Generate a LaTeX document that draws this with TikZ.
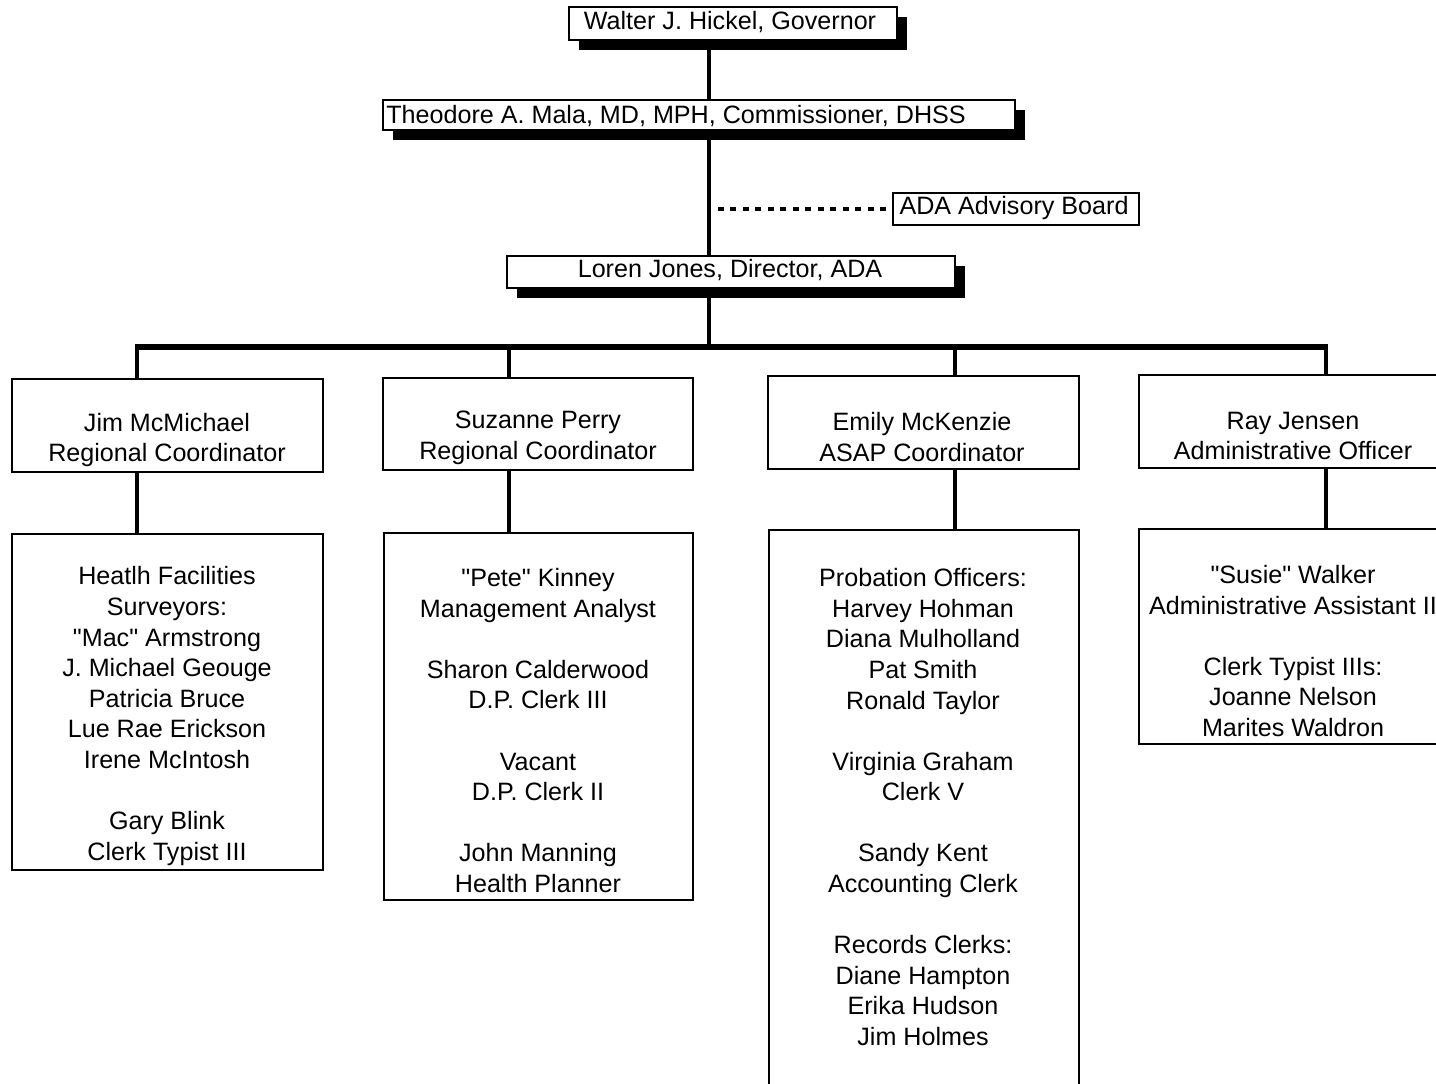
\documentclass[tikz,border=0pt]{standalone}
\usepackage{fontspec}
\setmainfont{Liberation Sans}
\usetikzlibrary{shadows}
\tikzset{
	box/.style={draw,fill=white,line width=1.1pt,inner sep=0pt},
	topbox/.style={box,drop shadow={shadow xshift=0.2cm,shadow yshift=-0.19cm,fill=black,opacity=1}},
	txt/.style={align=center,inner sep=0pt,font=\fontsize{14.3}{17.4}\selectfont},
	trunk/.style={line width=2.4pt},
	bar/.style={line width=3pt},
	link/.style={line width=2pt,dash pattern=on 3.3pt off 3.8pt}
}
\begin{document}
\begin{tikzpicture}[
		x=0.02cm,
		y=-0.02cm,
		line cap=butt,
		line join=miter
		]
		\useasboundingbox (0,0) rectangle (1436,1083);
		\clip (0,0) rectangle (1436,1083);
		\coordinate (t) at (709,347);
		\coordinate (b1) at (137,347);
		\coordinate (b2) at (509,347);
		\coordinate (b3) at (955,347);
		\coordinate (b4) at (1326,347);
		\node[topbox,minimum width=6.56cm,minimum height=0.66cm] (gov) at (733,23.5) {};
		\node[topbox,minimum width=12.64cm,minimum height=0.6cm] (comm) at (699,115) {};
		\node[box,minimum width=4.92cm,minimum height=0.64cm] (board) at (1016,209) {};
		\node[topbox,minimum width=8.96cm,minimum height=0.64cm] (dir) at (731,272) {};
		\node[txt] (govtxt) at (730,22) {Walter J. Hickel, Governor};
		\node[txt,anchor=west] (commtxt) at (386,116) {Theodore A. Mala, MD, MPH, Commissioner, DHSS};
		\node[txt] (boardtxt) at (1014,208) {ADA Advisory Board};
		\node[txt] (dirtxt) at (730,270) {Loren Jones, Director, ADA};
		\begin{scope}[trunk]
		\draw (t |- gov.south) -- (t |- comm.north);
		\draw (t |- comm.south) -- (t |- dir.north);
		\draw (t |- dir.south) -- (t);
		\end{scope}
		\draw[link] ([xshift=0.18cm]t |- board.west) -- (board.west);
		\draw[bar] ([xshift=-1pt]b1) -- ([xshift=1pt]b4);
		\node[box,minimum width=6.22cm,minimum height=1.86cm] (jim) at (167.5,425.5) {};
		\node[box,minimum width=6.2cm,minimum height=1.84cm] (suz) at (538,424) {};
		\node[box,minimum width=6.22cm,minimum height=1.86cm] (emily) at (923.5,422.5) {};
		\node[box,minimum width=6.2cm,minimum height=1.86cm] (ray) at (1294,421.5) {};
		\node[txt] (jimtxt) at (167,440) {Jim McMichael\\Regional Coordinator};
		\node[txt] (suztxt) at (538,438) {Suzanne Perry\\Regional Coordinator};
		\node[txt] (emilytxt) at (922,437) {Emily McKenzie\\ASAP Coordinator};
		\node[txt] (raytxt) at (1293,436) {Ray Jensen\\Administrative Officer};
		\node[box,minimum width=6.22cm,minimum height=6.72cm] (jimstaff) at (167.5,702) {};
		\node[box,minimum width=6.18cm,minimum height=7.34cm] (suzstaff) at (538.5,716.5) {};
		\node[box,minimum width=6.2cm,minimum height=11.4cm] (emilystaff) at (924,815) {};
		\node[box,minimum width=6.2cm,minimum height=4.3cm] (raystaff) at (1294,636.5) {};
		\node[txt] (jimstafftxt) at (167,716) {Heatlh Facilities\\Surveyors:\\\textquotedbl Mac\textquotedbl{} Armstrong\\J. Michael Geouge\\Patricia Bruce\\Lue Rae Erickson\\Irene McIntosh\\[17.4pt]Gary Blink\\Clerk Typist III};
		\node[txt] (suzstafftxt) at (538,730.5) {\textquotedbl Pete\textquotedbl{} Kinney\\Management Analyst\\[17.4pt]Sharon Calderwood\\D.P. Clerk III\\[17.4pt]Vacant\\D.P. Clerk II\\[17.4pt]John Manning\\Health Planner};
		\node[txt] (emilystafftxt) at (923,807) {Probation Officers:\\Harvey Hohman\\Diana Mulholland\\Pat Smith\\Ronald Taylor\\[17.4pt]Virginia Graham\\Clerk V\\[17.4pt]Sandy Kent\\Accounting Clerk\\[17.4pt]Records Clerks:\\Diane Hampton\\Erika Hudson\\Jim Holmes};
		\node[txt] (raystafftxt) at (1293,651) {\textquotedbl Susie\textquotedbl{} Walker\\Administrative Assistant II\\[17.4pt]Clerk Typist IIIs:\\Joanne Nelson\\Marites Waldron};
		\begin{scope}[trunk]
		\draw (b1) -- (b1 |- jim.north);
		\draw (b2) -- (b2 |- suz.north);
		\draw (b3) -- (b3 |- emily.north);
		\draw (b4) -- (b4 |- ray.north);
		\draw (jim.south -| b1) -- (b1 |- jimstaff.north);
		\draw (suz.south -| b2) -- (b2 |- suzstaff.north);
		\draw (emily.south -| b3) -- (b3 |- emilystaff.north);
		\draw (ray.south -| b4) -- (b4 |- raystaff.north);
		\end{scope}
		\end{tikzpicture}
\end{document}
